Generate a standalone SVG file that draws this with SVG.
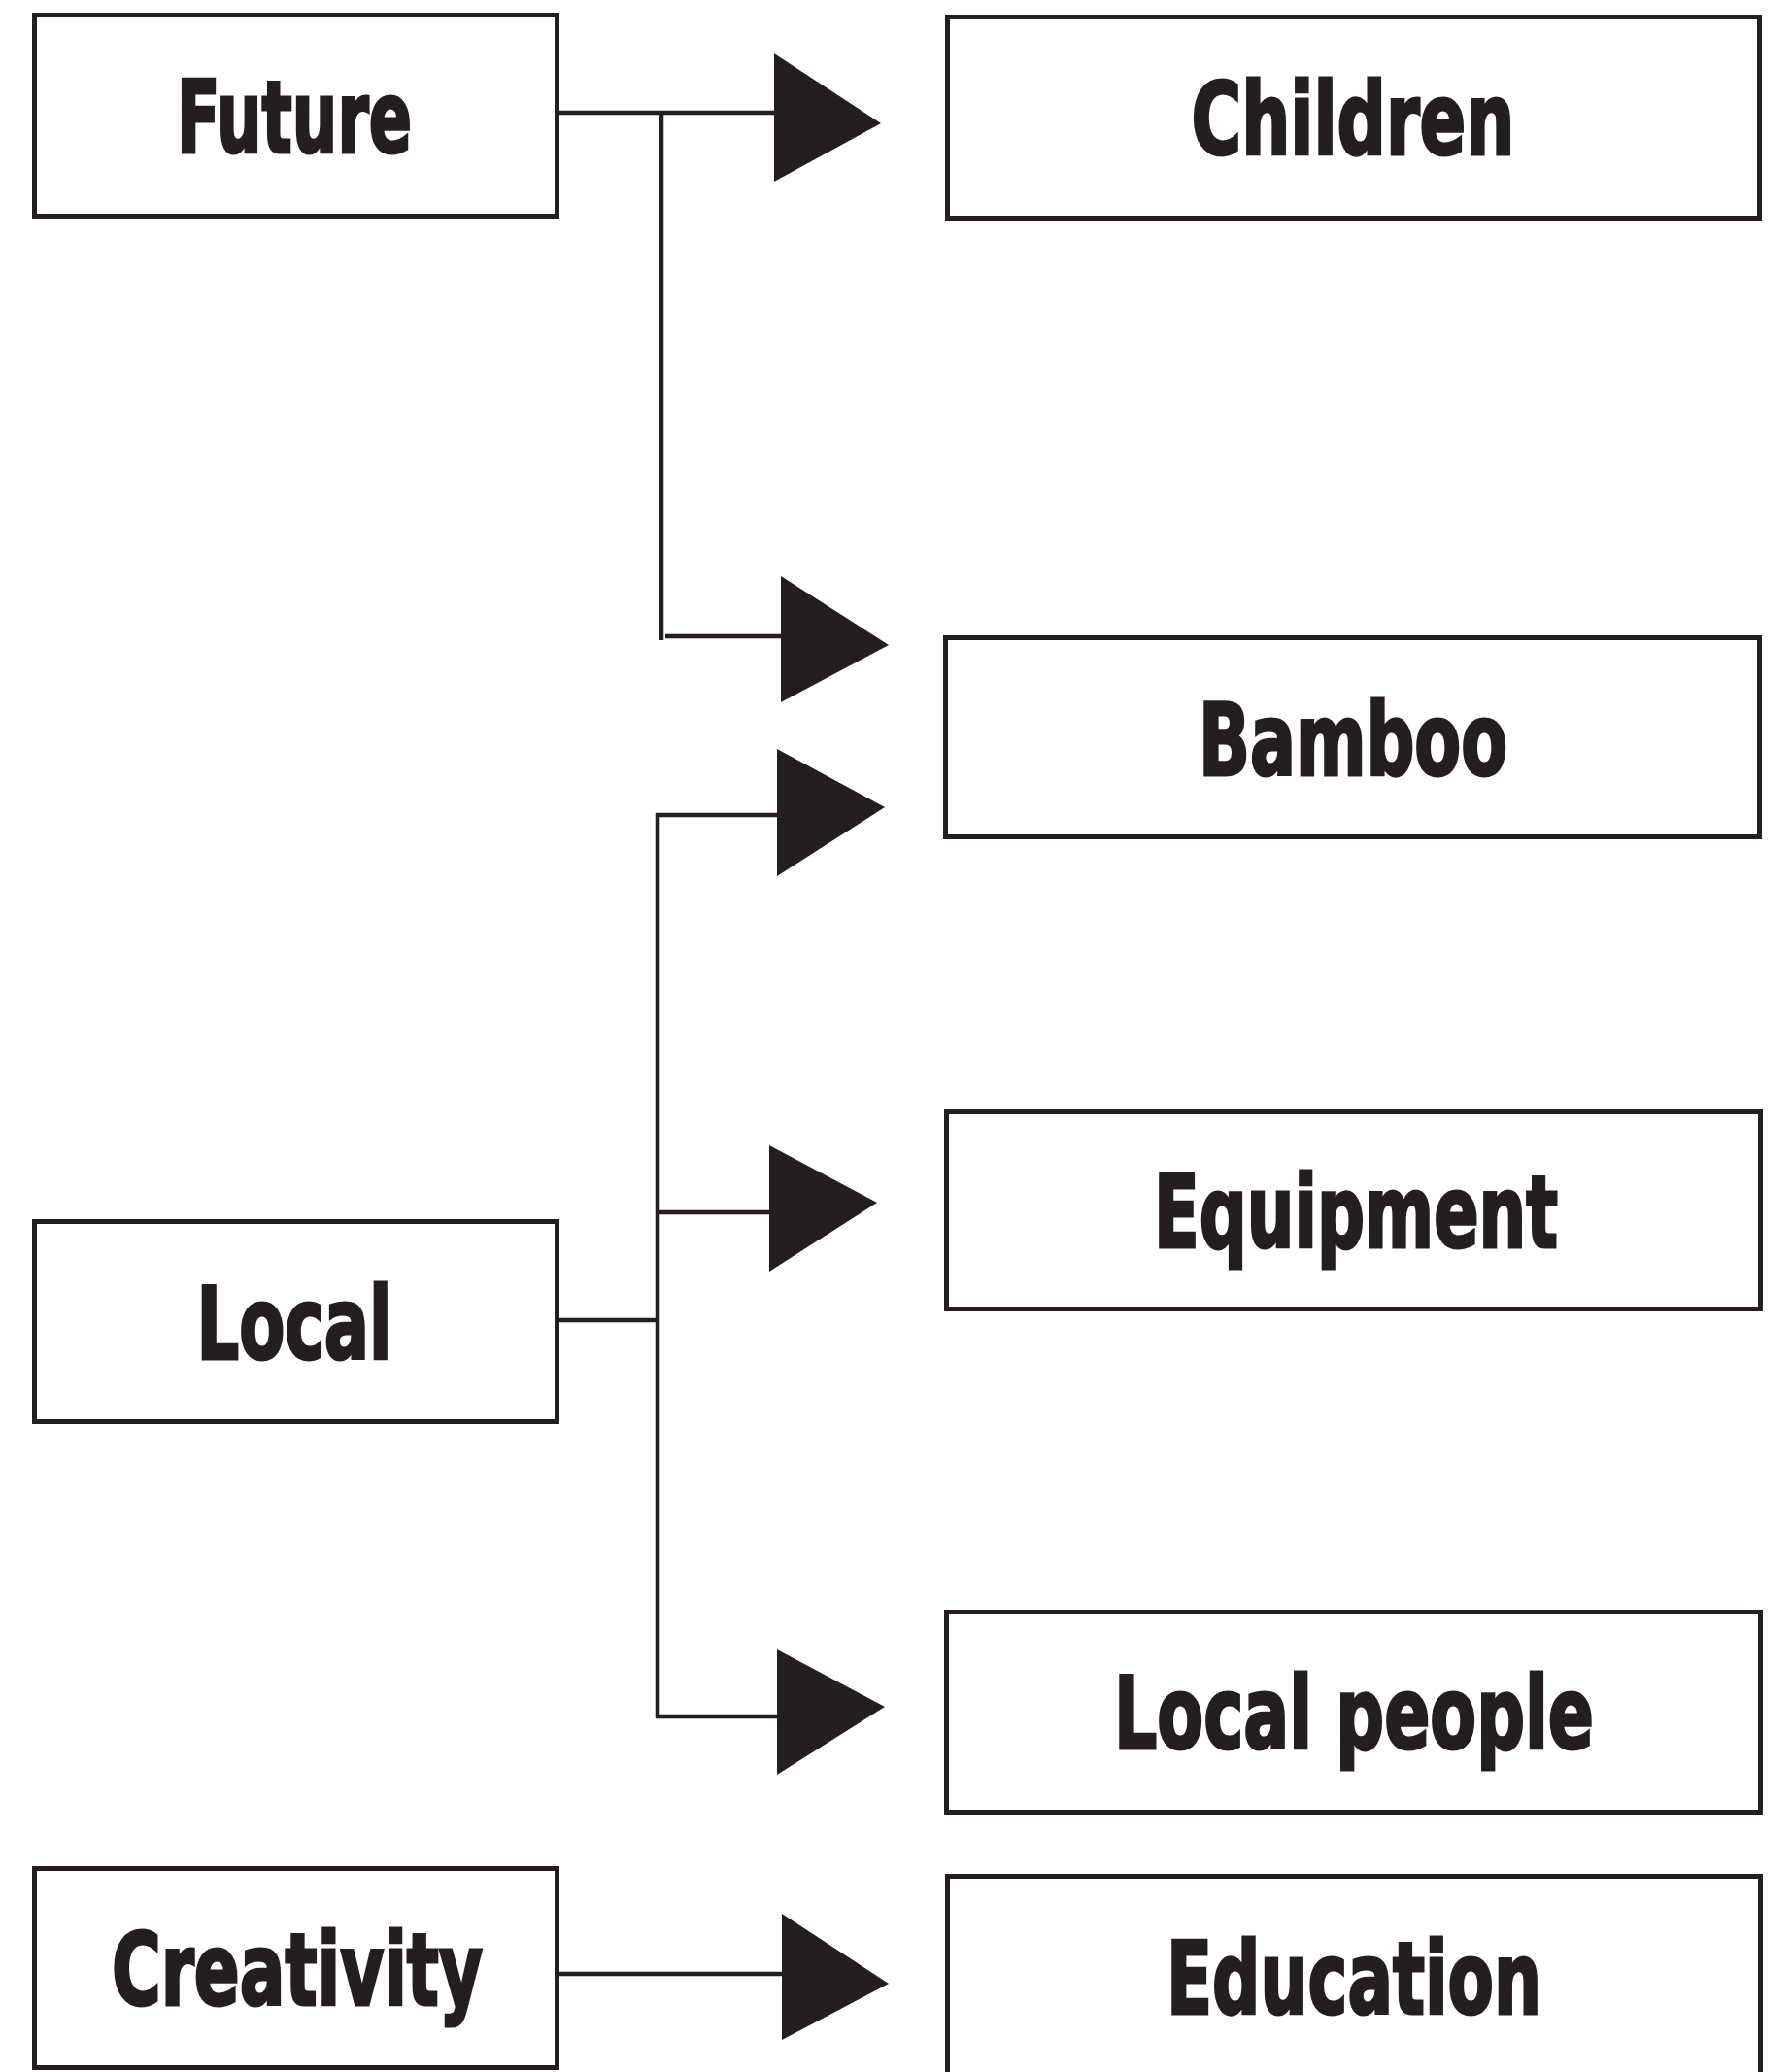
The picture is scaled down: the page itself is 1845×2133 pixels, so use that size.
<svg xmlns="http://www.w3.org/2000/svg" width="1845" height="2133" viewBox="0 0 1845 2133">
<style>
.box{fill:#fff;stroke:#231f20;stroke-width:5}
.lbl{font-family:"Liberation Sans Narrow","DejaVu Sans Condensed","Liberation Sans",sans-serif;font-weight:bold;font-size:104px;fill:#231f20;stroke:#231f20;stroke-width:3;text-anchor:middle}
.ln{stroke:#231f20;stroke-width:4.5;fill:none}
.ah{fill:#231f20}
</style>
<rect width="1845" height="2133" fill="#fff"/>
<g id="connectors">
<line class="ln" x1="576" y1="116" x2="800" y2="116"/>
<line class="ln" x1="681" y1="116" x2="681" y2="659"/>
<line class="ln" x1="685" y1="655" x2="806" y2="655"/>
<polygon class="ah" points="797,55 907,127 797,187"/>
<polygon class="ah" points="804,593 915,664 804,723"/>
<line class="ln" x1="576" y1="1359" x2="679" y2="1359"/>
<line class="ln" x1="677" y1="837" x2="677" y2="1769"/>
<line class="ln" x1="675" y1="839" x2="802" y2="839"/>
<line class="ln" x1="675" y1="1248" x2="794" y2="1248"/>
<line class="ln" x1="675" y1="1767" x2="802" y2="1767"/>
<polygon class="ah" points="800,771 911,831 800,902"/>
<polygon class="ah" points="792,1179 903,1238 792,1309"/>
<polygon class="ah" points="800,1698 911,1757 800,1827"/>
<line class="ln" x1="576" y1="2032" x2="807" y2="2032"/>
<polygon class="ah" points="805,1970 915,2042 805,2100"/>
</g>
<g id="future"><rect class="box" x="35.5" y="15.5" width="538" height="207"/><text class="lbl" x="303" y="157" textLength="242" lengthAdjust="spacingAndGlyphs">Future</text></g>
<g id="local"><rect class="box" x="35.5" y="1257.5" width="538" height="206"/><text class="lbl" x="303" y="1399" textLength="201" lengthAdjust="spacingAndGlyphs">Local</text></g>
<g id="creativity"><rect class="box" x="35.5" y="1923.5" width="538" height="205"/><text class="lbl" x="306" y="2064" textLength="382" lengthAdjust="spacingAndGlyphs">Creativity</text></g>
<g id="children"><rect class="box" x="975.5" y="17.5" width="836" height="207"/><text class="lbl" x="1393" y="159" textLength="333" lengthAdjust="spacingAndGlyphs">Children</text></g>
<g id="bamboo"><rect class="box" x="973.5" y="656.5" width="838" height="205"/><text class="lbl" x="1393" y="798" textLength="318" lengthAdjust="spacingAndGlyphs">Bamboo</text></g>
<g id="equipment"><rect class="box" x="974.5" y="1144.5" width="838" height="203"/><text class="lbl" x="1396" y="1284" textLength="416" lengthAdjust="spacingAndGlyphs">Equipment</text></g>
<g id="local-people"><rect class="box" x="974.5" y="1659.5" width="838" height="206"/><text class="lbl" x="1394" y="1800" textLength="494" lengthAdjust="spacingAndGlyphs">Local people</text></g>
<g id="education"><rect class="box" x="975.5" y="1931.5" width="837" height="250"/><text class="lbl" x="1394" y="2073" textLength="386" lengthAdjust="spacingAndGlyphs">Education</text></g>
</svg>
